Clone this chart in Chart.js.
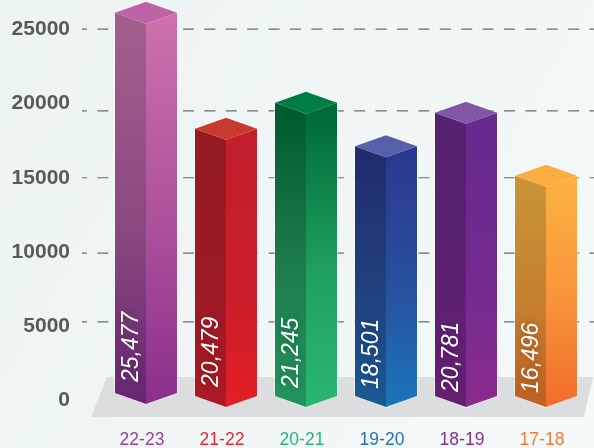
<!DOCTYPE html>
<html>
<head>
<meta charset="utf-8">
<style>
  html, body { margin: 0; padding: 0; }
  body { width: 594px; height: 448px; overflow: hidden; background: linear-gradient(120deg, #ecf3f3 0%, #f0f6f6 50%, #f4f8f9 100%); }
  #mychart { display: block; }
</style>
<script src="https://cdn.jsdelivr.net/npm/chart.js@4"></script>
</head>
<body>
<canvas id="mychart" width="594" height="448"></canvas>
<script>
// Our labels along the x-axis
var years = ['22-23', '21-22', '20-21', '19-20', '18-19', '17-18'];
// What is printed on the bars
var printed = ['25,477', '20,479', '21,245', '18,501', '20,781', '16,496'];
// Height of the front top corner of each bar, as read against the axis
var barTops = [25400, 17570, 19320, 16385, 18650, 14390];
// Where the front bottom corner sits
var barFeet = [-270, -470, -470, -470, -470, -470];
var yTicks = [0, 5000, 10000, 15000, 20000, 25000];
// The dashed lines do not sit exactly on the tick labels in the picture
var gridLines = [5270, 9910, 15000, 19520, 25030];

var labelColors = ['#9b3f9c', '#df2a2f', '#2bb673', '#2b70b5', '#8a2f94', '#f47b34'];
var leftFace = [
  ['#a45e8c', '#8a4880', '#66266f'],
  ['#951a22', '#9c1a24', '#ad1a25'],
  ['#005c2f', '#1e7d4e', '#23945e'],
  ['#212c6e', '#20417f', '#1b5b93'],
  ['#542270', '#5c2172', '#662072'],
  ['#c99338', '#c47f2e', '#bf5f22']
];
var rightFace = [
  ['#cc6fac', '#aa4f9a', '#8a2f8b'],
  ['#c21e2b', '#c91e2a', '#e31e26'],
  ['#006b38', '#20a060', '#2bb673'],
  ['#2a3990', '#27529f', '#1b75bb'],
  ['#672a8e', '#722b8e', '#8a2a8e'],
  ['#fbb040', '#f8913a', '#f26c2b']
];
var topFace = ['#bd62a5', '#c83a2e', '#007d43', '#5560a8', '#8157a5', '#fbad3f'];
var labelLift = [22, 20, 19, 18, 15, 14];

var depth = 11;

function faceFill(ctx, stops, y0, y1) {
  var g = ctx.createLinearGradient(0, y0, 0, y1);
  g.addColorStop(0, stops[0]);
  g.addColorStop(0.55, stops[1]);
  g.addColorStop(1, stops[2]);
  return g;
}

function poly(ctx, pts, fill) {
  ctx.beginPath();
  ctx.moveTo(pts[0][0], pts[0][1]);
  for (var i = 1; i < pts.length; i++) ctx.lineTo(pts[i][0], pts[i][1]);
  ctx.closePath();
  ctx.fillStyle = fill;
  ctx.fill();
}

// A bar element that paints itself as a box with a left, right and top face
class BoxBar extends Chart.BarElement {
  draw(ctx) {
    var p = this.getProps(['x', 'y', 'base', 'width']);
    var i = this.barIndex;
    var half = p.width / 2;
    var l = p.x - half, r = p.x + half;
    var top = p.y, foot = p.base;
    ctx.save();
    // thin pale edge round the box
    poly(ctx, [[l - 1, top - depth], [p.x, top - 2 * depth - 1], [r + 1, top - depth], [r + 1, foot - depth], [p.x, foot + 1], [l - 1, foot - depth]], 'rgba(255,255,255,0.55)');
    poly(ctx, [[l, top - depth], [p.x, top], [p.x, foot], [l, foot - depth]], faceFill(ctx, leftFace[i], top, foot));
    poly(ctx, [[p.x, top], [r, top - depth], [r, foot - depth], [p.x, foot]], faceFill(ctx, rightFace[i], top, foot));
    poly(ctx, [[l, top - depth], [p.x, top - 2 * depth], [r, top - depth], [p.x, top]], topFace[i]);
    ctx.restore();
  }
}
BoxBar.id = 'boxBar';
BoxBar.defaults = Chart.BarElement.defaults;
BoxBar.defaultRoutes = Chart.BarElement.defaultRoutes;

class BoxBarController extends Chart.BarController {
  draw() {
    this._cachedMeta.data.forEach(function (el, i) { el.barIndex = i; });
    super.draw();
  }
}
BoxBarController.id = 'boxBar';
BoxBarController.defaults = Object.assign({}, Chart.BarController.defaults, { dataElementType: 'boxBar' });
BoxBarController.overrides = Chart.BarController.overrides;
Chart.register(BoxBar, BoxBarController);

var scenery = {
  id: 'scenery',
  beforeDatasetsDraw: function (chart) {
    var c = chart.ctx, y = chart.scales.y;
    // grey floor
    var back = y.getPixelForValue(1550), front = y.getPixelForValue(-1150);
    poly(c, [[107, back], [593, back], [584, front], [91, front]], '#dcdddf');
    // dashed lines
    c.save();
    c.strokeStyle = '#6a6c6e';
    c.lineWidth = 1.2;
    c.setLineDash([11, 10.4]);
    gridLines.forEach(function (v) {
      var py = y.getPixelForValue(v);
      c.beginPath();
      c.lineDashOffset = 6;
      c.moveTo(82, py);
      c.lineTo(594, py);
      c.stroke();
    });
    c.restore();
  },
  afterDatasetsDraw: function (chart) {
    var c = chart.ctx;
    chart.getDatasetMeta(0).data.forEach(function (bar, i) {
      c.save();
      c.translate(bar.x - bar.width / 4 + 1, bar.base - labelLift[i]);
      c.rotate(-Math.PI / 2);
      c.font = 'italic 23px "Liberation Sans", Arial, sans-serif';
      c.fillStyle = '#ffffff';
      c.textAlign = 'left';
      c.textBaseline = 'middle';
      c.shadowColor = 'rgba(0,0,0,0.25)';
      c.shadowBlur = 6;
      c.fillText(printed[i], 0, 0);
      c.restore();
    });
  }
};

var ctx = document.getElementById('mychart');
var myChart = new Chart(ctx, {
  type: 'boxBar',
  data: {
    labels: years,
    datasets: [{
      data: barTops.map(function (t, i) { return [barFeet[i], t]; }),
      backgroundColor: 'transparent',
      borderSkipped: false
    }]
  },
  options: {
    responsive: false,
    animation: false,
    layout: { autoPadding: false, padding: { top: 0, right: 8, left: 0, bottom: 0 } },
    categoryPercentage: 1,
    barPercentage: 0.775,
    plugins: { legend: { display: false }, title: { display: false }, tooltip: { enabled: false } },
    scales: {
      x: {
        afterFit: function (axis) { axis.height = 18.4; },
        grid: { display: false, drawTicks: false },
        border: { display: false },
        ticks: {
          color: function (c) { return labelColors[c.index]; },
          font: { family: '"Liberation Sans", Arial, sans-serif', size: 17.5 },
          padding: 0,
          labelOffset: -4,
          maxRotation: 0,
          autoSkip: false
        }
      },
      y: {
        min: -2000,
        max: 27000,
        afterBuildTicks: function (axis) {
          axis.ticks = yTicks.map(function (v) { return { value: v }; });
        },
        afterFit: function (axis) {
          axis.width = 106;
          // the tick padding below would otherwise squeeze the plot from top and bottom
          axis.paddingTop = 0;
          axis.paddingBottom = 0;
        },
        grid: { display: false, drawTicks: false },
        border: { display: false },
        ticks: {
          color: '#58595b',
          font: { family: '"Liberation Sans", Arial, sans-serif', size: 21, weight: 'bold' },
          padding: 36,
          callback: function (v) { return String(v); }
        }
      }
    }
  },
  plugins: [scenery]
});
</script>
</body>
</html>
